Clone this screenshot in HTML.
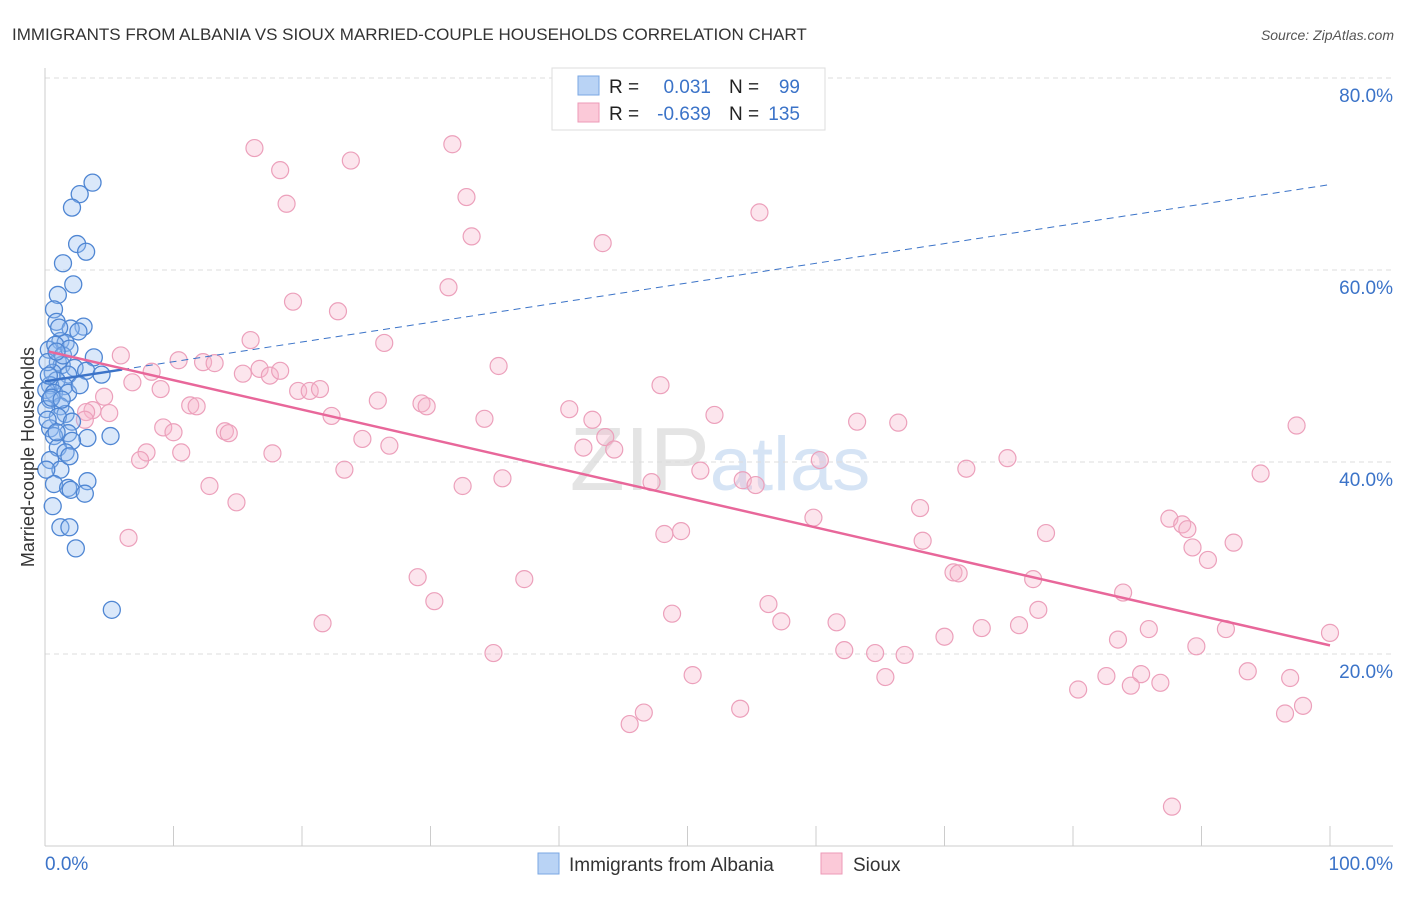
<!DOCTYPE html>
<html><head><meta charset="utf-8"><style>
body{margin:0;background:#fff;font-family:"Liberation Sans",sans-serif;}
svg text{font-family:"Liberation Sans",sans-serif;}
</style></head><body>
<svg id="chart" width="1406" height="892" xmlns="http://www.w3.org/2000/svg">
<text x="12" y="40" font-size="17" fill="#333">IMMIGRANTS FROM ALBANIA VS SIOUX MARRIED-COUPLE HOUSEHOLDS CORRELATION CHART</text>
<text x="1394" y="40" font-size="14" fill="#555" font-style="italic" text-anchor="end">Source: ZipAtlas.com</text>
<text x="720" y="490" font-size="90" fill="#e4e4e4" text-anchor="middle" font-family="Liberation Serif">ZIP<tspan fill="#d6e4f5" font-family="Liberation Sans" font-size="76">atlas</tspan></text>
<g id="grid"></g>
<g id="axes"></g>
<g id="pts"></g>
<g id="trend"></g>
<text transform="translate(34,457) rotate(-90)" font-size="18" fill="#333" text-anchor="middle">Married-couple Households</text>
<g>
<rect x="552" y="68" width="273" height="62" fill="#fff" stroke="#ddd"/>
<rect x="578" y="76" width="21" height="19" fill="#b9d3f5" stroke="#7aa7e3"/>
<rect x="578" y="103" width="21" height="19" fill="#fbc9d8" stroke="#ec9ab7"/>
<text x="609" y="93" font-size="19" fill="#222">R = </text><text x="711" y="93" font-size="19" fill="#3b73c8" text-anchor="end">0.031</text>
<text x="729" y="93" font-size="19" fill="#222">N = </text><text x="800" y="93" font-size="19" fill="#3b73c8" text-anchor="end">99</text>
<text x="609" y="120" font-size="19" fill="#222">R = </text><text x="711" y="120" font-size="19" fill="#3b73c8" text-anchor="end">-0.639</text>
<text x="729" y="120" font-size="19" fill="#222">N = </text><text x="800" y="120" font-size="19" fill="#3b73c8" text-anchor="end">135</text>
</g>
<g>
<rect x="538" y="853" width="21" height="21" fill="#b9d3f5" stroke="#7aa7e3"/>
<text x="569" y="871" font-size="19" fill="#333">Immigrants from Albania</text>
<rect x="821" y="853" width="21" height="21" fill="#fbc9d8" stroke="#ec9ab7"/>
<text x="853" y="871" font-size="19" fill="#333">Sioux</text>
</g>
</svg>
<script>
const yTicks=[20,40,60,80];
const yTickLabels=["20.0%","40.0%","60.0%","80.0%"];
const xTicks=[0,10,20,30,40,50,60,70,80,90,100];
const xEndLabels=["0.0%","100.0%"];
const blueX=[3.7,2.7,2.1,2.5,3.2,1.4,2.2,1.0,0.7,0.9,3.0,2.0,2.6,1.2,1.6,0.3,3.8,1.0,1.3,2.3,3.2,0.6,1.8,4.4,0.9,0.4,1.5,0.1,0.7,1.8,0.4,1.2,0.1,1.6,1.0,2.1,0.4,1.8,0.7,3.3,2.1,5.1,1.0,1.6,0.4,1.2,3.3,0.7,1.8,2.0,3.1,0.6,1.2,1.9,2.4,5.2,0.8,0.2,1.4,0.5,0.2,0.9,1.9,0.1,1.3,2.7,0.3,1.9,0.9,1.1];
const blueY=[69.1,67.9,66.5,62.7,61.9,60.7,58.5,57.4,55.9,54.6,54.1,53.9,53.6,52.6,52.4,51.7,50.9,50.4,50.1,49.8,49.5,49.3,49.1,49.1,48.5,48.0,47.9,47.5,47.2,47.2,46.5,45.8,45.5,45.0,44.7,44.2,43.5,43.0,42.7,42.5,42.2,42.7,41.5,41.0,40.2,39.2,38.0,37.7,37.3,37.1,36.7,35.4,33.2,33.2,31.0,24.6,52.2,50.4,51.1,46.7,44.4,43.1,40.6,39.2,46.5,48.0,49.0,51.8,51.5,54.0];
const pinkX=[16.3,18.3,23.8,31.7,18.8,32.8,55.6,33.2,43.4,31.4,19.3,22.8,16.0,26.4,5.9,10.4,12.3,13.2,8.3,15.4,16.7,17.5,18.3,6.8,9.0,19.7,20.6,21.4,25.9,35.3,47.9,4.6,3.7,11.3,11.8,22.3,29.3,29.7,34.2,40.8,42.6,52.1,63.2,66.4,9.2,10.0,14.0,14.3,24.7,26.8,41.9,43.6,44.3,7.9,10.6,17.7,7.4,60.3,74.9,23.3,71.7,94.6,51.0,54.3,55.3,47.2,35.6,32.5,12.8,14.9,6.5,59.8,68.1,87.5,88.5,88.9,77.9,48.2,49.5,68.3,92.5,89.3,90.5,97.4,29.0,37.3,70.7,71.1,76.9,30.3,56.3,83.9,77.3,48.8,21.6,57.3,61.6,72.9,75.8,85.9,91.9,100.0,70.0,83.5,89.6,62.2,64.6,66.9,34.9,50.4,65.4,80.4,82.6,85.3,93.6,84.5,86.8,96.9,46.6,45.5,54.1,97.9,96.5,87.7,5.0,3.2,3.1];
const pinkY=[72.7,70.4,71.4,73.1,66.9,67.6,66.0,63.5,62.8,58.2,56.7,55.7,52.7,52.4,51.1,50.6,50.4,50.3,49.4,49.2,49.7,49.0,49.5,48.3,47.6,47.4,47.4,47.6,46.4,50.0,48.0,46.8,45.4,45.9,45.8,44.8,46.1,45.8,44.5,45.5,44.4,44.9,44.2,44.1,43.6,43.1,43.2,43.0,42.4,41.7,41.5,42.6,41.3,41.0,41.0,40.9,40.2,40.2,40.4,39.2,39.3,38.8,39.1,38.1,37.6,37.9,38.3,37.5,37.5,35.8,32.1,34.2,35.2,34.1,33.5,33.0,32.6,32.5,32.8,31.8,31.6,31.1,29.8,43.8,28.0,27.8,28.5,28.4,27.8,25.5,25.2,26.4,24.6,24.2,23.2,23.4,23.3,22.7,23.0,22.6,22.6,22.2,21.8,21.5,20.8,20.4,20.1,19.9,20.1,17.8,17.6,16.3,17.7,17.9,18.2,16.7,17.0,17.5,13.9,12.7,14.3,14.6,13.8,4.1,45.1,45.2,44.4];
const blueTrend=[48.4,68.9];
const pinkTrend=[51.5,20.9];

const NS="http://www.w3.org/2000/svg";
const X=v=>45+v*12.85;
const Y=v=>846-v*9.6;
function mk(tag,attrs,parent){const e=document.createElementNS(NS,tag);for(const k in attrs)e.setAttribute(k,attrs[k]);document.getElementById(parent).appendChild(e);return e;}
yTicks.forEach((t,i)=>{
  const g=mk('line',{x1:45,x2:1393,y1:Y(t),y2:Y(t),stroke:'#ddd','stroke-dasharray':'5,4'},'grid');
  
  
  const l=mk('text',{x:1393,y:Y(t)+24,'font-size':19,fill:'#3b73c8','text-anchor':'end'},'grid');
  l.textContent=yTickLabels[i];
  
  
});
const ya=mk('line',{x1:45,x2:45,y1:68,y2:846,stroke:'#ccc'},'axes');


const xa=mk('line',{x1:45,x2:1393,y1:846,y2:846,stroke:'#ccc'},'axes');


xTicks.forEach(t=>{
  const tk=mk('line',{x1:X(t),x2:X(t),y1:826,y2:846,stroke:'#ccc'},'axes');
  
  
});
const xl0=mk('text',{x:45,y:870,'font-size':19,fill:'#3b73c8'},'axes');xl0.textContent=xEndLabels[0];


const xl1=mk('text',{x:1393,y:870,'font-size':19,fill:'#3b73c8','text-anchor':'end'},'axes');xl1.textContent=xEndLabels[1];


pinkX.forEach((v,i)=>{
  const c=mk('circle',{cx:X(v),cy:Y(pinkY[i]),r:8.5,fill:'rgba(246,180,202,0.35)',stroke:'#eca0bb','stroke-width':1.2},'pts');
  
  
});
blueX.forEach((v,i)=>{
  const c=mk('circle',{cx:X(v),cy:Y(blueY[i]),r:8.5,fill:'rgba(150,190,240,0.35)',stroke:'#4f86d3','stroke-width':1.3},'pts');
  
  
});
const bS=v=>blueTrend[0]+(blueTrend[1]-blueTrend[0])*v/100;
const bd=mk('line',{x1:X(6),y1:Y(bS(6)),x2:X(100),y2:Y(bS(100)),stroke:'#3b73c8','stroke-width':1,'stroke-dasharray':'7,5'},'trend');


const bl=mk('line',{x1:X(0),y1:Y(bS(0)),x2:X(6),y2:Y(bS(6)),stroke:'#3b73c8','stroke-width':2.5},'trend');


const pl=mk('line',{x1:X(0.3),y1:Y(pinkTrend[0]),x2:X(100),y2:Y(pinkTrend[1]),stroke:'#e8679a','stroke-width':2.5},'trend');


</script>
</body></html>
